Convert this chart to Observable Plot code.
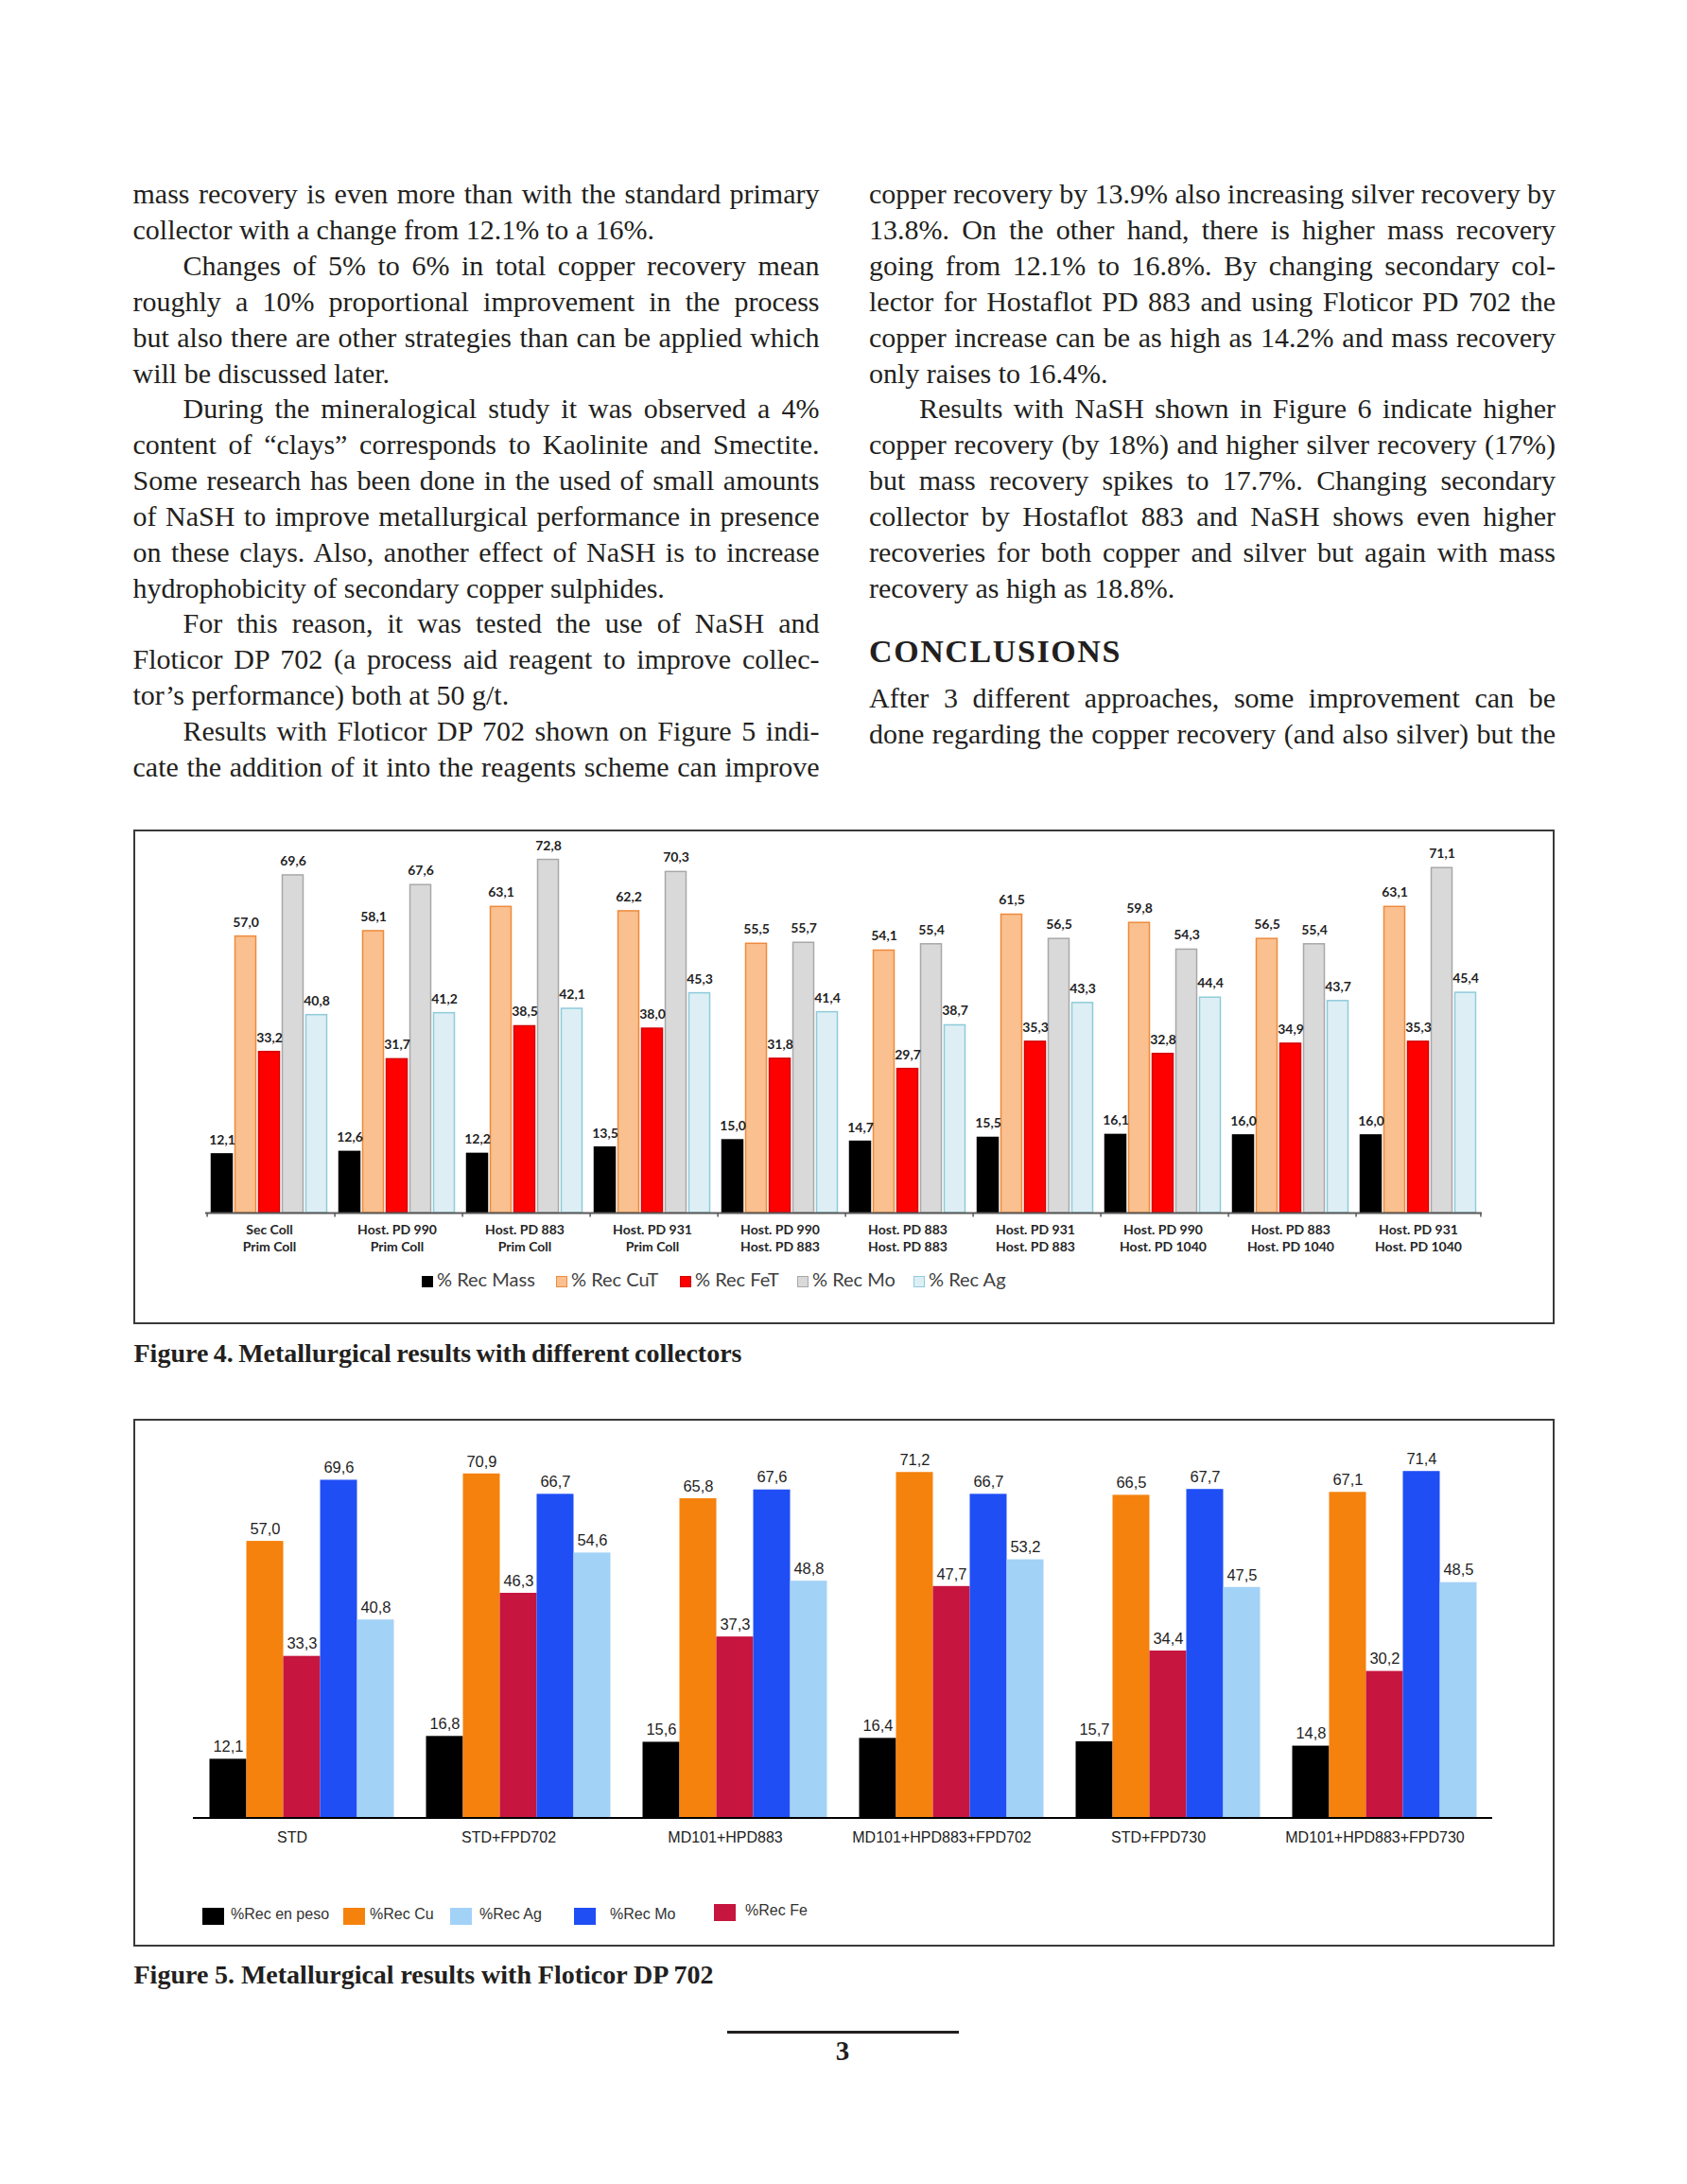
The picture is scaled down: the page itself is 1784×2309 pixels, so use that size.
<!DOCTYPE html>
<html><head><meta charset="utf-8">
<script src="https://cdn.jsdelivr.net/npm/d3@7"></script>
<script src="https://cdn.jsdelivr.net/npm/@observablehq/plot@0.6"></script>
<style>
html,body{margin:0;padding:0;background:#fff;}
#page{position:relative;width:1784px;height:2309px;overflow:hidden;background:#fff;}
.frame{position:absolute;border:2px solid #3a3a3a;box-sizing:border-box;}
.chart{position:absolute;}
</style></head><body><div id="page"></div>
<script>
// ---------------- DATA ----------------
// Figure 4
const fig4Line1 = ["Sec Coll","Host. PD 990","Host. PD 883","Host. PD 931","Host. PD 990","Host. PD 883","Host. PD 931","Host. PD 990","Host. PD 883","Host. PD 931"];
const fig4Line2 = ["Prim Coll","Prim Coll","Prim Coll","Prim Coll","Host. PD 883","Host. PD 883","Host. PD 883","Host. PD 1040","Host. PD 1040","Host. PD 1040"];
const fig4Series = ["% Rec Mass","% Rec CuT","% Rec FeT","% Rec Mo","% Rec Ag"];
const fig4Mass = [12.1,12.6,12.2,13.5,15.0,14.7,15.5,16.1,16.0,16.0];
const fig4CuT  = [57.0,58.1,63.1,62.2,55.5,54.1,61.5,59.8,56.5,63.1];
const fig4FeT  = [33.2,31.7,38.5,38.0,31.8,29.7,35.3,32.8,34.9,35.3];
const fig4Mo   = [69.6,67.6,72.8,70.3,55.7,55.4,56.5,54.3,55.4,71.1];
const fig4Ag   = [40.8,41.2,42.1,45.3,41.4,38.7,43.3,44.4,43.7,45.4];

// Figure 5
const fig5Groups = ["STD","STD+FPD702","MD101+HPD883","MD101+HPD883+FPD702","STD+FPD730","MD101+HPD883+FPD730"];
const fig5Series = ["%Rec en peso","%Rec Cu","%Rec Fe","%Rec Mo","%Rec Ag"];
const fig5Mass = [12.1,16.8,15.6,16.4,15.7,14.8];
const fig5Cu   = [57.0,70.9,65.8,71.2,66.5,67.1];
const fig5Fe   = [33.3,46.3,37.3,47.7,34.4,30.2];
const fig5Mo   = [69.6,66.7,67.6,66.7,67.7,71.4];
const fig5Ag   = [40.8,54.6,48.8,53.2,47.5,48.5];
const fig5LegendOrder = ["%Rec en peso","%Rec Cu","%Rec Ag","%Rec Mo","%Rec Fe"];

// Text
const leftCol = [
 ["mass recovery is even more than with the standard primary","j",0],
 ["collector with a change from 12.1% to a 16%.","l",0],
 ["Changes of 5% to 6% in total copper recovery mean","j",1],
 ["roughly a 10% proportional improvement in the process","j",0],
 ["but also there are other strategies than can be applied which","j",0],
 ["will be discussed later.","l",0],
 ["During the mineralogical study it was observed a 4%","j",1],
 ["content of \u201cclays\u201d corresponds to Kaolinite and Smectite.","j",0],
 ["Some research has been done in the used of small amounts","j",0],
 ["of NaSH to improve metallurgical performance in presence","j",0],
 ["on these clays. Also, another effect of NaSH is to increase","j",0],
 ["hydrophobicity of secondary copper sulphides.","l",0],
 ["For this reason, it was tested the use of NaSH and","j",1],
 ["Floticor DP 702 (a process aid reagent to improve collec-","j",0],
 ["tor\u2019s performance) both at 50 g/t.","l",0],
 ["Results with Floticor DP 702 shown on Figure 5 indi-","j",1],
 ["cate the addition of it into the reagents scheme can improve","j",0]
];
const rightCol = [
 ["copper recovery by 13.9% also increasing silver recovery by","j",0],
 ["13.8%. On the other hand, there is higher mass recovery","j",0],
 ["going from 12.1% to 16.8%. By changing secondary col-","j",0],
 ["lector for Hostaflot PD 883 and using Floticor PD 702 the","j",0],
 ["copper increase can be as high as 14.2% and mass recovery","j",0],
 ["only raises to 16.4%.","l",0],
 ["Results with NaSH shown in Figure 6 indicate higher","j",1],
 ["copper recovery (by 18%) and higher silver recovery (17%)","j",0],
 ["but mass recovery spikes to 17.7%. Changing secondary","j",0],
 ["collector by Hostaflot 883 and NaSH shows even higher","j",0],
 ["recoveries for both copper and silver but again with mass","j",0],
 ["recovery as high as 18.8%.","l",0]
];
const heading = "CONCLUSIONS";
const conclLines = [
 ["After 3 different approaches, some improvement can be","j",0],
 ["done regarding the copper recovery (and also silver) but the","j",0]
];
const caption4 = "Figure 4. Metallurgical results with different collectors";
const caption5 = "Figure 5. Metallurgical results with Floticor DP 702";
const pageNumber = "3";

// ---------------- PAGE TEXT ----------------
const page = document.getElementById("page");
const SERIF = "'Liberation Serif', 'Times New Roman', serif";
const INK = "#231f20";

function textLine(str, x, yc, opts = {}) {
  const size = opts.size || 30;
  const d = document.createElement("div");
  d.textContent = str;
  Object.assign(d.style, {
    position: "absolute", left: x + "px", top: (yc - 0.6075 * size) + "px",
    whiteSpace: "pre", fontFamily: opts.family || SERIF, fontSize: size + "px",
    fontWeight: opts.weight || "normal", lineHeight: "1", color: opts.color || INK
  });
  page.appendChild(d);
  const nat = d.getBoundingClientRect().width;
  if (opts.width && opts.mode === "word") {
    const n = (str.match(/ /g) || []).length;
    if (n) d.style.wordSpacing = ((opts.width - nat) / n) + "px";
  } else if (opts.width && opts.mode === "letter") {
    d.style.letterSpacing = ((opts.width - nat) / (str.length)) + "px";
  }
  if (opts.center) d.style.left = (x - d.getBoundingClientRect().width / 2) + "px";
  return d;
}

const COLW = 726, INDENT = 53, PITCH = 37.85, FIRST = 208.5;
function column(lines, x0, y0) {
  lines.forEach(([s, m, ind], i) => {
    const x = x0 + (ind ? INDENT : 0);
    textLine(s, x, y0 + i * PITCH, m === "j" ? {width: COLW - (ind ? INDENT : 0), mode: "word"} : {});
  });
}
column(leftCol, 140.5, FIRST);
column(rightCol, 919, FIRST);
textLine(heading, 919, 693, {size: 34, weight: "bold", width: 267, mode: "letter"});
column(conclLines, 919, 741.5);

// frames
function frame(l, t, w, h) {
  const f = document.createElement("div"); f.className = "frame";
  Object.assign(f.style, {left: l + "px", top: t + "px", width: w + "px", height: h + "px"});
  page.appendChild(f);
}
frame(141, 877, 1503, 523);
frame(141, 1500, 1503, 558);

textLine(caption4, 141.5, 1434, {size: 28, weight: "bold", width: 643, mode: "word"});
textLine(caption5, 141.5, 2091, {size: 28, weight: "bold", width: 613, mode: "word"});
const rule = document.createElement("div");
Object.assign(rule.style, {position: "absolute", left: "769px", top: "2147px", width: "245px", height: "3px", background: INK});
page.appendChild(rule);
textLine(pageNumber, 891, 2172, {size: 29, weight: "bold", center: true});

const fmt = v => v.toFixed(1).replace(".", ",");

// ---------------- FIGURE 4 ----------------
{
  const groups = fig4Line1.map((a, i) => a + "\n" + fig4Line2[i]);
  const vals = [fig4Mass, fig4CuT, fig4FeT, fig4Mo, fig4Ag];
  const fills = ["#000000", "#FAC08F", "#FF0000", "#D9D9D9", "#DDEFF5"];
  const strokes = ["#000000", "#EE8A3C", "#D40000", "#A8A8A8", "#8FCBDA"];
  const rows = [];
  groups.forEach((g, i) => fig4Series.forEach((s, j) => rows.push({group: g, series: s, value: vals[j][i]})));

  const W = 1503, H = 470, ML = 72.5, MR = 73.5, BASE = 404, K = 5.13, TOP = 78;
  const MT = BASE - TOP * K, MB = H - BASE;
  const PI = 0.11, PO = 0.167;
  const facetW = (W - ML - MR) / groups.length;
  const step = facetW / (fig4Series.length - PI + 2 * PO);
  const edge = step * (1 - PI) / 2 + PO * step;

  const chart = Plot.plot({
    width: W, height: H, marginLeft: ML, marginRight: MR, marginTop: MT, marginBottom: MB,
    style: {fontFamily: "Lato, 'Open Sans', sans-serif", fontSize: "14px", fontWeight: "bold", background: "transparent", overflow: "visible"},
    fx: {domain: groups, padding: 0, axis: null, label: null},
    x: {domain: fig4Series, paddingInner: PI, paddingOuter: PO, axis: null},
    y: {domain: [0, TOP], axis: null},
    marks: [
      ...fig4Series.map((s, j) => Plot.barY(rows.filter(r => r.series === s), {
        fx: "group", x: "series", y: "value", fill: fills[j], stroke: strokes[j], strokeWidth: 1.5
      })),
      Plot.ruleY([0], {stroke: "#595959", strokeWidth: 2}),
      Plot.ruleX(groups, {fx: d => d, x: () => fig4Series[0], y1: 0, y2: -0.9, dx: -edge, stroke: "#595959", strokeWidth: 1.5}),
      Plot.ruleX([groups[groups.length - 1]], {fx: d => d, x: () => fig4Series[fig4Series.length - 1], y1: 0, y2: -0.9, dx: edge, stroke: "#595959", strokeWidth: 1.5}),
      Plot.text(rows, {fx: "group", x: "series", y: "value", text: d => fmt(d.value), dy: -15, fill: "#1f1f1f", fontSize: 14}),
      Plot.text(groups, {fx: d => d, text: d => d, frameAnchor: "bottom", lineAnchor: "top", dy: 10, lineHeight: 1.27, fill: "#262626", fontSize: 14})
    ]
  });
  chart.classList.add("chart");
  chart.style.left = "141px"; chart.style.top = "878px";
  page.appendChild(chart);

  // legend
  const lx = [446, 588, 719, 843, 966];
  fig4Series.forEach((s, j) => {
    const sw = document.createElement("div");
    Object.assign(sw.style, {position: "absolute", left: lx[j] + "px", top: (1355 - 6) + "px", width: "12px", height: "12px",
      background: fills[j], border: "1px solid " + strokes[j], boxSizing: "border-box"});
    page.appendChild(sw);
    textLine(s, lx[j] + 16, 1354, {size: 20, family: "Lato, 'Open Sans', sans-serif", color: "#404040"});
  });
}

// ---------------- FIGURE 5 ----------------
{
  const vals = [fig5Mass, fig5Cu, fig5Fe, fig5Mo, fig5Ag];
  const fills = ["#000000", "#F5820D", "#C6153F", "#1F4EF5", "#A3D2F7"];
  const rows = [];
  fig5Groups.forEach((g, i) => fig5Series.forEach((s, j) => rows.push({group: g, series: s, value: vals[j][i]})));

  const W = 1503, H = 470, ML = 60.5, MR = 63.5, BASE = 421.5, K = 5.13, TOP = 80;
  const MT = BASE - TOP * K, MB = H - BASE;
  const SANS = "'Liberation Sans', Arial, sans-serif";

  const chart = Plot.plot({
    width: W, height: H, marginLeft: ML, marginRight: MR, marginTop: MT, marginBottom: MB,
    style: {fontFamily: SANS, fontSize: "16px", background: "transparent", overflow: "visible"},
    fx: {domain: fig5Groups, padding: 0, axis: null, label: null},
    x: {domain: fig5Series, paddingInner: 0, paddingOuter: 0.415, axis: null},
    y: {domain: [0, TOP], axis: null},
    marks: [
      ...fig5Series.map((s, j) => Plot.barY(rows.filter(r => r.series === s), {
        fx: "group", x: "series", y: "value", fill: fills[j]
      })),
      Plot.ruleY([0], {stroke: "#000000", strokeWidth: 2}),
      Plot.text(rows, {fx: "group", x: "series", y: "value", text: d => fmt(d.value), dy: -13, fill: "#1f1f1f", fontSize: 16.5}),
      Plot.text(fig5Groups, {fx: d => d, text: d => d, frameAnchor: "bottom", dy: 26, dx: -10, fill: "#222222", fontSize: 16})
    ]
  });
  chart.classList.add("chart");
  chart.style.left = "141px"; chart.style.top = "1500px";
  page.appendChild(chart);

  // legend
  const sx = [214, 363, 476, 607, 755];
  const tx = [244, 391, 507, 645, 788];
  const ly = [2026, 2026, 2026, 2026, 2022];
  fig5LegendOrder.forEach((s, k) => {
    const j = fig5Series.indexOf(s);
    const sw = document.createElement("div");
    Object.assign(sw.style, {position: "absolute", left: sx[k] + "px", top: (ly[k] - 9) + "px", width: "23px", height: "18px", background: fills[j]});
    page.appendChild(sw);
    textLine(s, tx[k], ly[k], {size: 16, family: SANS, color: "#333333"});
  });
}
</script>
</body></html>
